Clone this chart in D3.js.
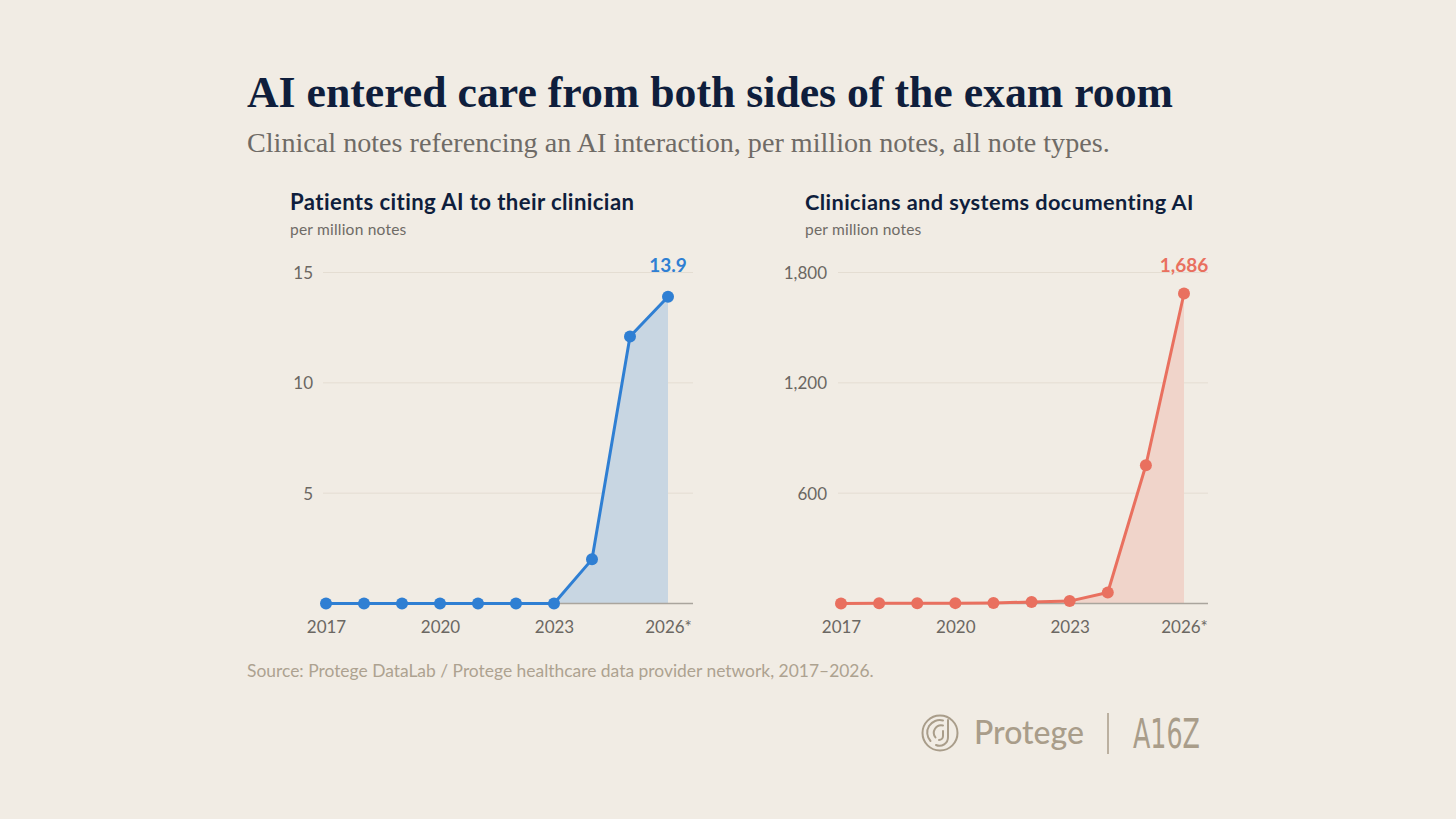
<!DOCTYPE html>
<html>
<head>
<meta charset="utf-8">
<script src="https://cdn.jsdelivr.net/npm/d3@7/dist/d3.min.js"></script>
<style>
  html, body { margin: 0; padding: 0; background: #f1ece4; }
  svg { display: block; }
</style>
</head>
<body>
<svg id="chart" width="1456" height="819"></svg>
<script>
// ---- Data ----
const years = [2017, 2018, 2019, 2020, 2021, 2022, 2023, 2024, 2025, 2026];
const patientValues = [0, 0, 0, 0, 0, 0, 0, 2.0, 12.1, 13.9];
const clinicianValues = [0, 1, 1, 2, 3, 8, 13, 60, 752, 1686];
const patientTicks = [5, 10, 15];
const clinicianTicks = [600, 1200, 1800];
const xTickYears = [2017, 2020, 2023, 2026];
const xTickLabels = ["2017", "2020", "2023", "2026*"];
const titleText = "AI entered care from both sides of the exam room";
const subtitleText = "Clinical notes referencing an AI interaction, per million notes, all note types.";
const panelTitles = ["Patients citing AI to their clinician", "Clinicians and systems documenting AI"];
const unitText = "per million notes";
const endLabels = ["13.9", "1,686"];
const sourceText = "Source: Protege DataLab / Protege healthcare data provider network, 2017\u20132026.";

// ---- Setup ----
const svg = d3.select("#chart");
svg.append("rect").attr("width", 1456).attr("height", 819).attr("fill", "#f1ece4");

function fitText(sel, targetWidth) {
  const node = sel.node();
  const w = node.getComputedTextLength();
  const fs = parseFloat(sel.attr("font-size"));
  if (w > 0) sel.attr("font-size", (fs * targetWidth / w).toFixed(2));
  return sel;
}

const serif = "'Liberation Serif', 'DejaVu Serif', serif";
const sans = "Lato, 'Noto Sans', sans-serif";
const navy = "#0f1e3c";

fitText(svg.append("text").attr("x", 247).attr("y", 107)
  .attr("font-family", serif).attr("font-weight", 700).attr("font-size", 44)
  .attr("fill", navy).text(titleText), 926);

fitText(svg.append("text").attr("x", 247).attr("y", 152)
  .attr("font-family", serif).attr("font-weight", 400).attr("font-size", 28)
  .attr("fill", "#6f6b66").text(subtitleText), 863);

fitText(svg.append("text").attr("x", 247).attr("y", 677)
  .attr("font-family", sans).attr("font-size", 15)
  .attr("fill", "#ada290").text(sourceText), 627);

// ---- Panels ----
const panels = [
  { values: patientValues, ticks: patientTicks, max: 15, title: panelTitles[0], titleW: 347,
    x0: 326, x1: 668, gx0: 323, gx1: 693, labelX: 313, color: "#2f7fd3", area: "#c8d6e2",
    fmt: d3.format("d"), end: endLabels[0] },
  { values: clinicianValues, ticks: clinicianTicks, max: 1800, title: panelTitles[1], titleW: 391,
    x0: 841, x1: 1184, gx0: 838, gx1: 1208, labelX: 827, color: "#e9705f", area: "#f0d4ca",
    fmt: d3.format(","), end: endLabels[1] }
];

panels.forEach((p, i) => {
  const g = svg.append("g");
  fitText(g.append("text").attr("x", i === 0 ? 290 : 805).attr("y", 210)
    .attr("font-family", sans).attr("font-weight", 700).attr("font-size", 19)
    .attr("fill", navy).attr("letter-spacing", 0.4).text(p.title), p.titleW);
  fitText(g.append("text").attr("x", i === 0 ? 290 : 805).attr("y", 235)
    .attr("font-family", sans).attr("font-size", 14)
    .attr("fill", "#6f6b66").attr("letter-spacing", 0.2).text(unitText), 117);

  const x = d3.scaleLinear().domain([years[0], years[years.length - 1]]).range([p.x0, p.x1]);
  const y = d3.scaleLinear().domain([0, p.max]).range([603.5, 272.5]);

  // gridlines
  g.selectAll(".grid").data(p.ticks).join("line")
    .attr("x1", p.gx0).attr("x2", p.gx1)
    .attr("y1", d => y(d)).attr("y2", d => y(d))
    .attr("stroke", "#e4ddd2").attr("stroke-width", 1);

  // y axis labels via d3 axis
  const yAxis = g.append("g").attr("transform", `translate(${p.labelX},0)`)
    .call(d3.axisLeft(y).tickValues(p.ticks).tickFormat(p.fmt).tickSize(0).tickPadding(0));
  yAxis.select(".domain").remove();
  yAxis.selectAll("text").attr("font-family", sans).attr("font-size", 17)
    .attr("fill", "#6b6762").attr("text-anchor", "end").attr("dy", "0.36em");

  // area
  const area = d3.area().x((d, j) => x(years[j])).y0(y(0)).y1(d => y(d));
  g.append("path").datum(p.values).attr("d", area).attr("fill", p.area);

  // baseline
  g.append("line").attr("x1", p.gx0).attr("x2", p.gx1).attr("y1", y(0)).attr("y2", y(0))
    .attr("stroke", "#aaa59d").attr("stroke-width", 1.5);

  // x axis
  const xAxis = g.append("g").attr("transform", `translate(0,${y(0)})`)
    .call(d3.axisBottom(x).tickValues(xTickYears)
      .tickFormat((d) => xTickLabels[xTickYears.indexOf(d)]).tickSize(0).tickPadding(17));
  xAxis.select(".domain").remove();
  xAxis.selectAll("text").attr("font-family", sans).attr("font-size", 17)
    .attr("fill", "#6b6762");

  // line
  const line = d3.line().x((d, j) => x(years[j])).y(d => y(d));
  g.append("path").datum(p.values).attr("d", line)
    .attr("fill", "none").attr("stroke", p.color).attr("stroke-width", 3)
    .attr("stroke-linejoin", "round");

  g.selectAll(".dot").data(p.values).join("circle")
    .attr("cx", (d, j) => x(years[j])).attr("cy", d => y(d)).attr("r", 6)
    .attr("fill", p.color);

  // end label
  g.append("text").attr("x", x(years[years.length - 1])).attr("y", 272)
    .attr("text-anchor", "middle").attr("font-family", sans).attr("font-weight", 700)
    .attr("font-size", 19).attr("fill", p.color).text(p.end);
});

// ---- Logos ----
const logo = "#a99d8a";
const lg = svg.append("g").attr("transform", "translate(940,733)")
  .attr("fill", "none").attr("stroke", logo).attr("stroke-width", 2).attr("stroke-linecap", "round");
lg.append("circle").attr("r", 17.5);
lg.append("path").attr("d", "M3,-12.5 A12.5,12.5 0 0 0 -9.5,8");
lg.append("path").attr("d", "M3,-7.5 A7.5,7.5 0 0 0 -4.5,4.5");
lg.append("path").attr("d", "M8,-13 L8,4 A8.5,8.5 0 0 1 -4,12");
lg.append("path").attr("d", "M3,-2 L3,3 A4,4 0 0 1 -1,7");
fitText(svg.append("text").attr("x", 974).attr("y", 744)
  .attr("font-family", "Lato, 'Noto Sans', sans-serif").attr("font-weight", 500).attr("font-size", 29)
  .attr("fill", logo).text("Protege"), 110);
svg.append("line").attr("x1", 1108).attr("x2", 1108).attr("y1", 713).attr("y2", 754)
  .attr("stroke", logo).attr("stroke-width", 1.5);
svg.append("text").attr("x", 1133).attr("y", 748)
  .attr("font-family", "'Liberation Sans Narrow', 'DejaVu Sans Condensed', sans-serif").attr("font-weight", 400)
  .attr("font-size", 41).attr("textLength", 67).attr("lengthAdjust", "spacingAndGlyphs")
  .attr("fill", logo).text("A16Z");
</script>
</body>
</html>
